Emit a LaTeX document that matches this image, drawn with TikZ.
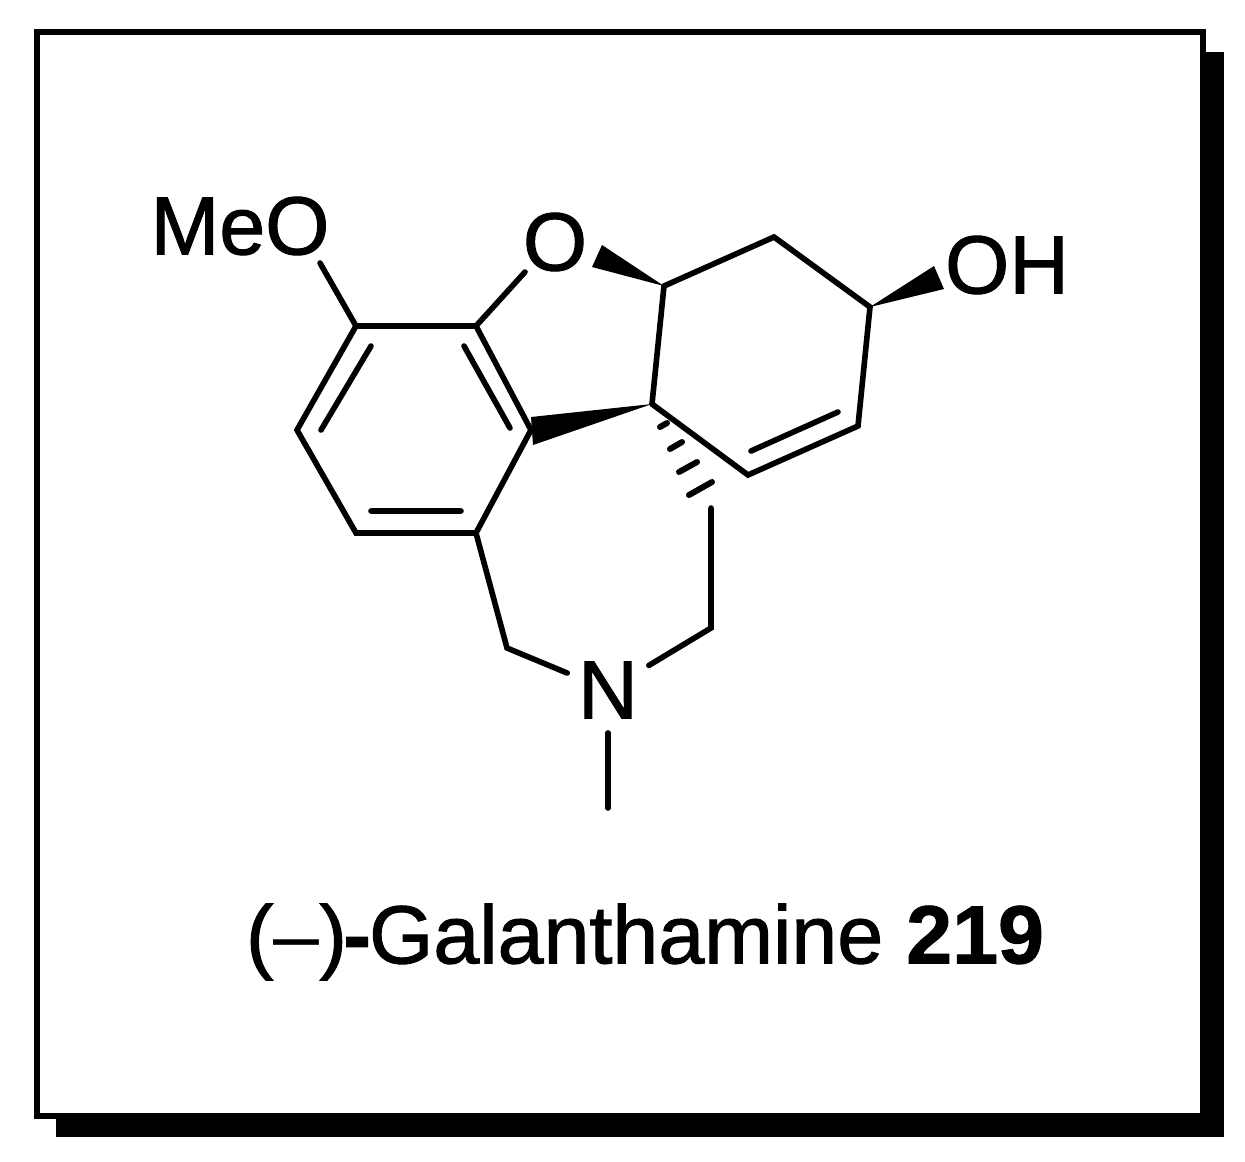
\documentclass[tikz,border=0pt]{standalone}
\usepackage{fontspec}
\setmainfont[FakeBold=1.2]{Liberation Sans}
\newfontfamily\boldnum[FakeBold=1.2]{Liberation Sans Bold}
\newfontfamily\plainsans{Liberation Sans}
\begin{document}
\begin{tikzpicture}[x=0.02cm,y=-0.02cm,
  bond/.style={line width=3.2pt,line cap=round,line join=miter},
  hashbar/.style={line width=3.4pt,line cap=round},
  atom/.style={font=\fontsize{47}{47}\selectfont,inner sep=0pt,outer sep=0pt,anchor=center}]
\useasboundingbox (0,0) rectangle (1245,1161);
\fill[white] (0,0) rectangle (1245,1161);
\fill[black] (56,52) rectangle (1224,1137);
\draw[fill=white,line width=2.9pt] (37,32) rectangle (1203,1116);
\coordinate (c1) at (356,326);
\coordinate (c2) at (476,326);
\coordinate (c3) at (531,430);
\coordinate (c4) at (476,533);
\coordinate (c5) at (356,533);
\coordinate (c6) at (297,430);
\coordinate (c7) at (652,404);
\coordinate (c8) at (664,286);
\coordinate (c9) at (774,237);
\coordinate (c10) at (870,307);
\coordinate (c11) at (858,426);
\coordinate (c12) at (748,475);
\coordinate (c13) at (711,508);
\coordinate (c14) at (711,628);
\coordinate (c15) at (507,648);
\coordinate (c16) at (608,808);
\coordinate (d1a) at (371,346);
\coordinate (d1b) at (321,430);
\coordinate (d2a) at (464,346);
\coordinate (d2b) at (510,428);
\coordinate (d3a) at (371,511);
\coordinate (d3b) at (461,511);
\coordinate (d4a) at (751,451);
\coordinate (d4b) at (838,412);
\coordinate (omeb) at (320,263);
\coordinate (ob) at (525,272);
\node[atom] (ome) at (240,226) {MeO};
\node[atom] (o) at (555,242) {O};
\node[atom] (oh) at (1007,265) {OH};
\node[atom,minimum width=46.5pt,minimum height=48.8pt] (n) at (608,690) {N};
\node[atom] (lab) at (645,942) {({\plainsans –})\hspace{-2pt}{\boldnum -}\hspace{-1pt}Galanthamine {\boldnum 219}};
\draw[bond] (omeb) -- (c1);
\draw[bond] (c1)--(c2)--(c3)--(c4)--(c5)--(c6)--cycle;
\draw[bond] (d1a)--(d1b) (d2a)--(d2b) (d3a)--(d3b) (d4a)--(d4b);
\draw[bond] (c2)--(ob);
\draw[bond] (c8)--(c7) (c8)--(c9)--(c10)--(c11)--(c12)--(c7);
\draw[bond] (c4)--(c15)--(n)--(c14)--(c13);
\draw[bond] (n)--(c16);
\fill (c8) -- (602,245) -- (592,267) -- cycle;
\fill (c10) -- (934,266) -- (944,289) -- cycle;
\fill (c7) -- (531,417) -- (533,445) -- cycle;
\draw[hashbar] (660,427) -- (667,423);
\draw[hashbar] (670,449) -- (682,442);
\draw[hashbar] (679,472) -- (697,462);
\draw[hashbar] (689,495) -- (712,482);
\end{tikzpicture}
\end{document}
